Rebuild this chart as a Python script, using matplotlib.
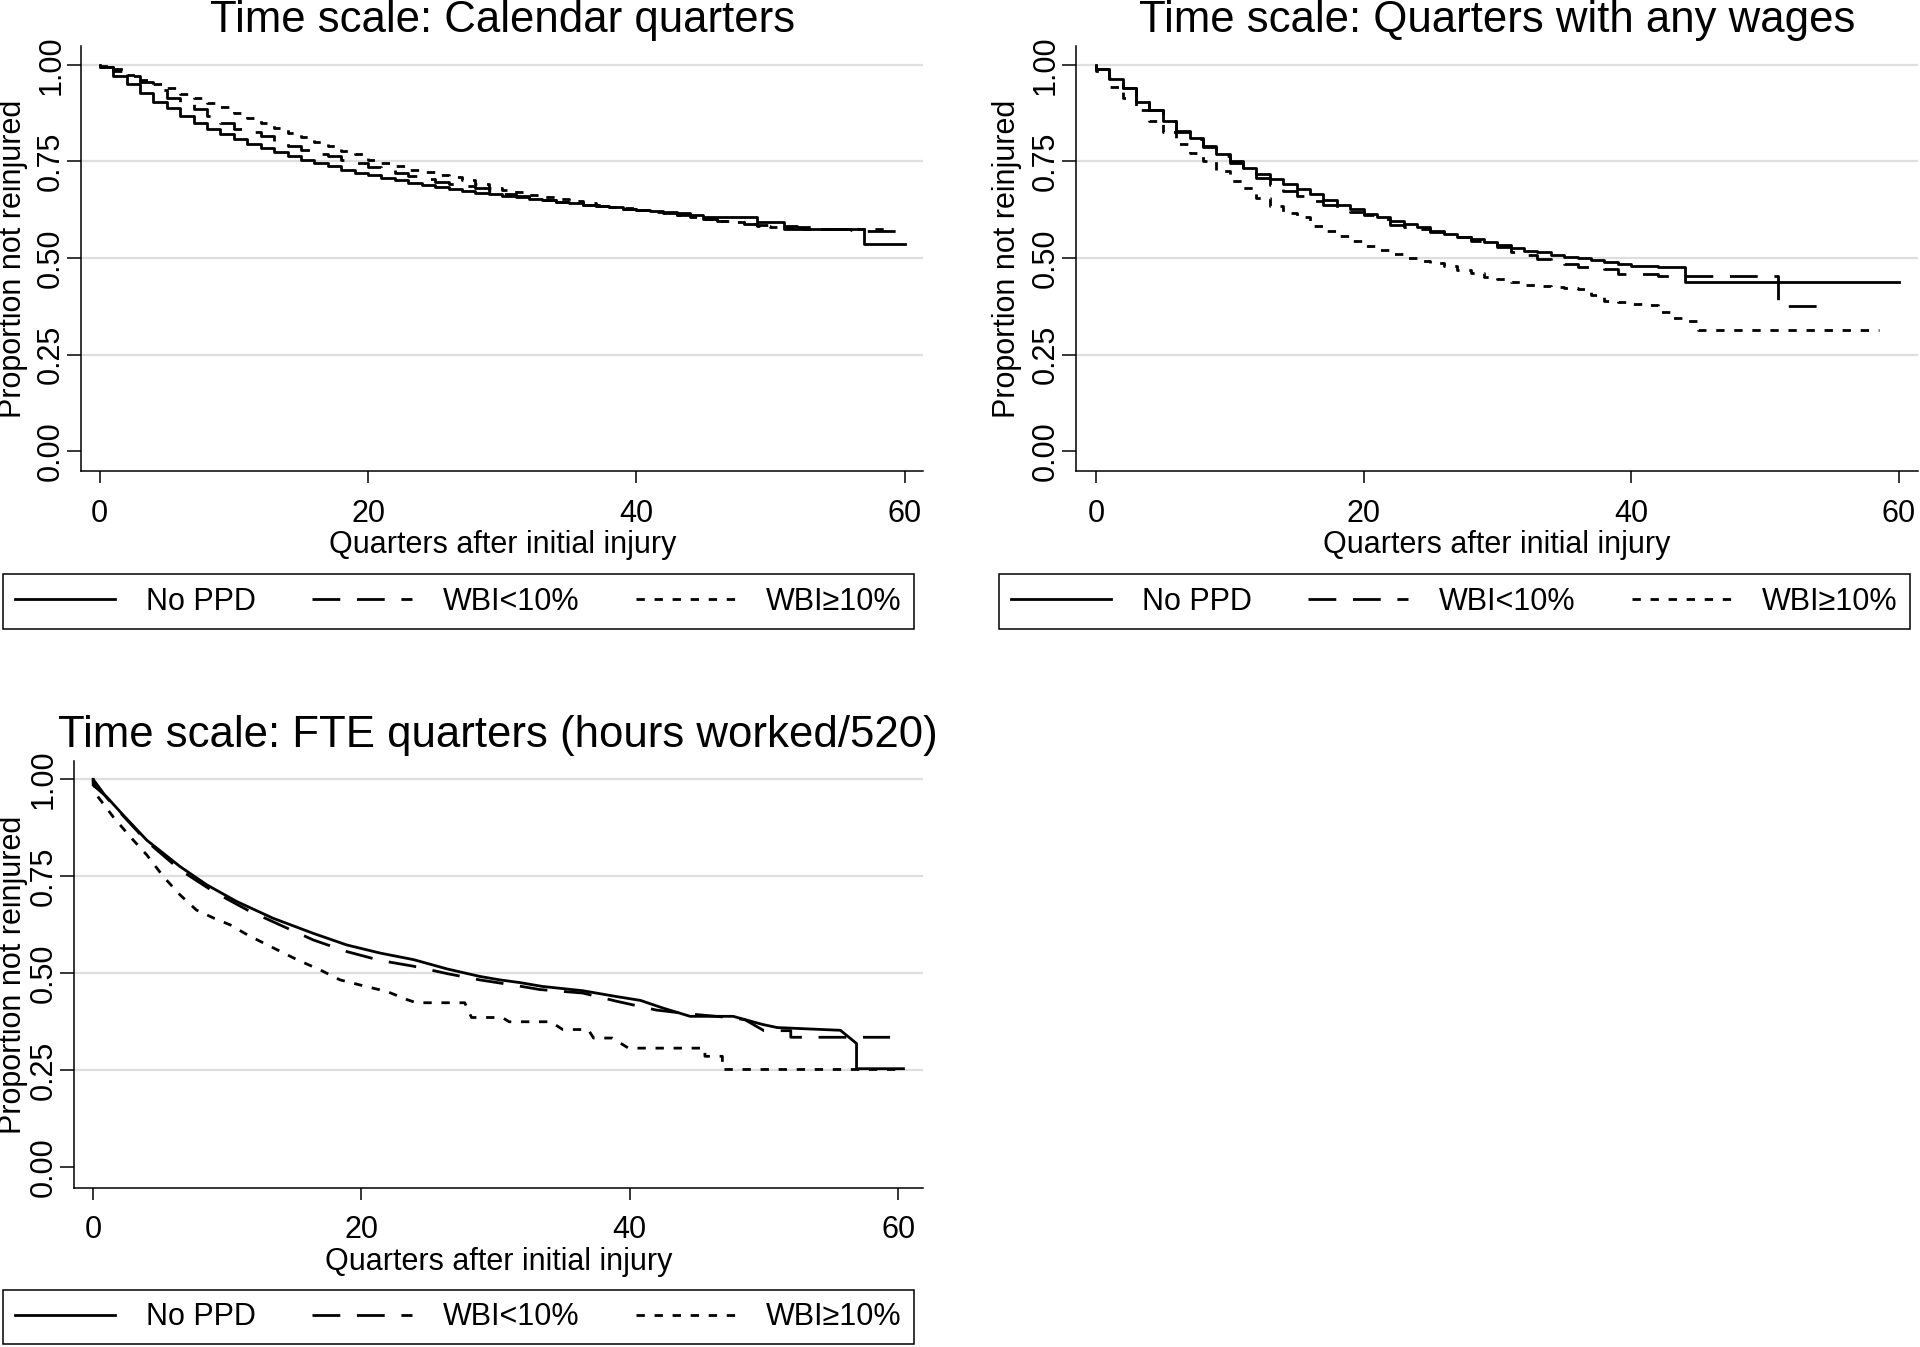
import numpy as np
import matplotlib
matplotlib.use("Agg")
import matplotlib.pyplot as plt

plt.rcParams['font.family'] = ['Liberation Sans', 'DejaVu Sans']

# Textos
groups = ['No PPD', 'WBI<10%', 'WBI≥10%']
titles = ['Time scale: Calendar quarters',
          'Time scale: Quarters with any wages',
          'Time scale: FTE quarters (hours worked/520)']
x_label = 'Quarters after initial injury'
y_label = 'Proportion not reinjured'
x_ticks = [0, 20, 40, 60]
y_ticks = [0.0, 0.25, 0.5, 0.75, 1.0]
y_tick_labels = ['0.00', '0.25', '0.50', '0.75', '1.00']
grid_levels = [0.25, 0.5, 0.75, 1.0]

# Panel 1: calendar quarters, survival held from quarter k to k+1
cal_nopd = [0.994, 0.972, 0.950, 0.927, 0.905, 0.888, 0.867, 0.850, 0.835, 0.820,
            0.807, 0.796, 0.785, 0.775, 0.764, 0.755, 0.747, 0.738, 0.729, 0.721,
            0.715, 0.708, 0.701, 0.695, 0.689, 0.684, 0.679, 0.673, 0.669, 0.665,
            0.661, 0.657, 0.653, 0.649, 0.645, 0.642, 0.638, 0.635, 0.631, 0.628,
            0.625, 0.622, 0.619, 0.616, 0.612, 0.605, 0.605, 0.605, 0.605, 0.594,
            0.594, 0.575, 0.575, 0.575, 0.575, 0.575, 0.575, 0.536, 0.536, 0.536]
cal_nopd_end = 60
cal_lt10 = [0.995, 0.983, 0.970, 0.955, 0.935, 0.914, 0.900, 0.885, 0.868, 0.850,
            0.835, 0.825, 0.815, 0.800, 0.790, 0.780, 0.770, 0.763, 0.754, 0.745,
            0.736, 0.728, 0.720, 0.712, 0.705, 0.698, 0.692, 0.686, 0.680, 0.673,
            0.666, 0.660, 0.655, 0.650, 0.646, 0.642, 0.638, 0.634, 0.630, 0.627,
            0.624, 0.620, 0.616, 0.612, 0.607, 0.600, 0.596, 0.592, 0.588, 0.586,
            0.584, 0.582, 0.580, 0.578, 0.576, 0.574, 0.572, 0.571, 0.571, 0.571]
cal_lt10_end = 60
cal_ge10 = [0.997, 0.990, 0.975, 0.960, 0.950, 0.940, 0.924, 0.914, 0.901, 0.890,
            0.875, 0.863, 0.850, 0.837, 0.824, 0.813, 0.801, 0.790, 0.777, 0.768,
            0.755, 0.747, 0.738, 0.729, 0.723, 0.716, 0.710, 0.701, 0.692, 0.682,
            0.676, 0.670, 0.664, 0.658, 0.652, 0.647, 0.642, 0.637, 0.633, 0.629,
            0.625, 0.620, 0.616, 0.612, 0.606, 0.600, 0.595, 0.592, 0.588, 0.584,
            0.581, 0.578, 0.575, 0.575, 0.575, 0.575, 0.575, 0.575, 0.575]
cal_ge10_end = 59

# Panel 2: quarters with any wages
wage_nopd = [0.990, 0.964, 0.940, 0.905, 0.884, 0.854, 0.828, 0.811, 0.790, 0.768,
             0.751, 0.734, 0.718, 0.704, 0.691, 0.678, 0.665, 0.649, 0.637, 0.626,
             0.615, 0.605, 0.596, 0.588, 0.579, 0.570, 0.562, 0.555, 0.548, 0.542,
             0.533, 0.526, 0.519, 0.515, 0.508, 0.503, 0.499, 0.496, 0.490, 0.485,
             0.480, 0.480, 0.476, 0.476, 0.437, 0.437, 0.437, 0.437, 0.437, 0.437,
             0.437, 0.437, 0.437, 0.437, 0.437, 0.437, 0.437, 0.437, 0.437, 0.437]
wage_nopd_end = 60
wage_lt10 = [0.990, 0.965, 0.940, 0.905, 0.884, 0.854, 0.826, 0.808, 0.787, 0.764,
             0.746, 0.728, 0.708, 0.690, 0.673, 0.660, 0.648, 0.636, 0.628, 0.620,
             0.611, 0.600, 0.585, 0.580, 0.576, 0.567, 0.560, 0.555, 0.545, 0.538,
             0.528, 0.515, 0.508, 0.498, 0.489, 0.485, 0.478, 0.473, 0.472, 0.459,
             0.459, 0.458, 0.453, 0.453, 0.453, 0.453, 0.453, 0.453, 0.453, 0.453,
             0.453, 0.377, 0.377, 0.377, 0.377]
wage_lt10_end = 55
wage_ge10 = [0.985, 0.943, 0.915, 0.884, 0.854, 0.825, 0.795, 0.772, 0.752, 0.725,
             0.700, 0.680, 0.655, 0.635, 0.617, 0.605, 0.583, 0.570, 0.557, 0.545,
             0.530, 0.520, 0.511, 0.501, 0.493, 0.486, 0.480, 0.469, 0.460, 0.452,
             0.445, 0.437, 0.429, 0.427, 0.425, 0.422, 0.420, 0.405, 0.390, 0.387,
             0.380, 0.379, 0.360, 0.345, 0.338, 0.313, 0.313, 0.313, 0.313, 0.313,
             0.313, 0.313, 0.313, 0.313, 0.313, 0.313, 0.313, 0.313, 0.313]
wage_ge10_end = 58.5

# Panel 3: FTE quarters (continuous time, read as points along each curve)
fte_nopd_t = [0, 0, 1.0, 2.26, 4.0, 6.48, 8.47, 10.7, 13.4, 16.4, 18.9, 21.4, 23.9,
              26.4, 28.8, 30.3, 31.8, 33.5, 36.5, 39.0, 40.8, 42.5, 44.5, 47.7,
              49.9, 51.0, 55.7, 55.7, 56.9, 56.9, 60.4]
fte_nopd_s = [1.0, 0.985, 0.955, 0.907, 0.843, 0.775, 0.728, 0.685, 0.642, 0.603,
              0.573, 0.552, 0.535, 0.511, 0.492, 0.483, 0.476, 0.466, 0.455, 0.440,
              0.430, 0.410, 0.389, 0.389, 0.368, 0.360, 0.353, 0.353, 0.319, 0.254,
              0.254]
fte_lt10_t = [0, 1.0, 2.26, 4.0, 6.5, 9.0, 11.5, 13.9, 16.4, 18.9, 21.4, 23.9, 26.4,
              28.8, 31.6, 33.3, 36.5, 39.0, 42.0, 44.5, 47.7, 48.6, 50.0, 52.0, 52.0,
              59.4]
fte_lt10_s = [1.0, 0.953, 0.905, 0.840, 0.766, 0.710, 0.663, 0.625, 0.586, 0.556,
              0.533, 0.518, 0.499, 0.483, 0.468, 0.458, 0.449, 0.428, 0.405, 0.395,
              0.385, 0.380, 0.352, 0.352, 0.335, 0.335]
fte_ge10_t = [0, 0.27, 1.5, 2.76, 4.0, 5.24, 6.48, 7.7, 9.0, 10.2, 11.5, 12.7, 15.2,
              16.9, 18.4, 20.1, 21.9, 23.4, 24.1, 27.7, 28.2, 30.5, 31.0, 34.1, 35.0,
              36.9, 37.3, 38.7, 39.9, 45.6, 45.6, 46.9, 46.9, 60.2]
fte_ge10_s = [1.0, 0.959, 0.903, 0.852, 0.805, 0.749, 0.702, 0.663, 0.642, 0.625,
              0.599, 0.578, 0.535, 0.509, 0.483, 0.468, 0.453, 0.432, 0.424, 0.424,
              0.386, 0.386, 0.375, 0.375, 0.355, 0.355, 0.333, 0.333, 0.307, 0.307,
              0.286, 0.286, 0.252, 0.252]

# Estilos de linea (Stata mono)
styles = [dict(color='black', lw=2.0, linestyle='-'),
          dict(color='black', lw=2.0, linestyle=(0, (10, 6))),
          dict(color='black', lw=2.0, linestyle=(0, (3, 3.5)))]


def km_steps(values, end):
    """Step curve starting at 1.0, one value per quarter, closed at end."""
    t = np.concatenate([[0], np.arange(len(values)), [end]])
    s = np.concatenate([[1.0], values, [values[-1]]])
    return t, s


def style_axes(ax, title, xlim, ylim, ylab_x):
    for g in grid_levels:
        ax.axhline(g, color='#dedede', lw=1.6, zorder=0)
    ax.set_xlim(*xlim)
    ax.set_ylim(*ylim)
    ax.set_xticks(x_ticks)
    ax.set_yticks(y_ticks)
    ax.set_yticklabels(y_tick_labels)
    for side in ['top', 'right']:
        ax.spines[side].set_visible(False)
    for side in ['left', 'bottom']:
        ax.spines[side].set_linewidth(1.1)
    ax.tick_params(axis='x', direction='out', length=8.6, width=1.1,
                   labelsize=22, pad=11)
    ax.tick_params(axis='y', direction='out', length=10, width=1.1,
                   labelsize=22, pad=1, labelrotation=90)
    for lab in ax.get_yticklabels():
        lab.set_va('center')
    ax.set_title(title, fontsize=31.5, pad=10)
    ax.set_xlabel(x_label, fontsize=22, labelpad=1)
    ax.set_ylabel(y_label, fontsize=22)
    ax.yaxis.set_label_coords(ylab_x, 0.5)


fig = plt.figure(figsize=(19.2, 13.47), dpi=100)

ax1 = fig.add_axes([0.0424, 0.6500, 0.4385, 0.3161])
ax2 = fig.add_axes([0.5606, 0.6500, 0.4381, 0.3161])
ax3 = fig.add_axes([0.0383, 0.1179, 0.4424, 0.3171])

# Panel 1
panel1 = [(cal_nopd, cal_nopd_end), (cal_lt10, cal_lt10_end), (cal_ge10, cal_ge10_end)]
for (vals, end), st, name in zip(panel1, styles, groups):
    t, s = km_steps(vals, end)
    ax1.plot(t, s, drawstyle='steps-post', label=name, **st)
style_axes(ax1, titles[0], (-1.37, 61.4), (-0.0525, 1.0497), -0.0634)

# Panel 2
panel2 = [(wage_nopd, wage_nopd_end), (wage_lt10, wage_lt10_end), (wage_ge10, wage_ge10_end)]
for (vals, end), st, name in zip(panel2, styles, groups):
    t, s = km_steps(vals, end)
    ax2.plot(t, s, drawstyle='steps-post', label=name, **st)
style_axes(ax2, titles[1], (-1.46, 61.4), (-0.0525, 1.0497), -0.0646)

# Panel 3
panel3 = [(fte_nopd_t, fte_nopd_s), (fte_lt10_t, fte_lt10_s), (fte_ge10_t, fte_ge10_s)]
for (t, s), st, name in zip(panel3, styles, groups):
    ax3.plot(t, s, label=name, **st)
style_axes(ax3, titles[2], (-1.46, 61.85), (-0.054, 1.047), -0.0536)

# Leyendas debajo de cada panel
legend_spots = [(ax1, (0.0016, 0.5736)), (ax2, (0.5203, 0.5736)), (ax3, (0.0016, 0.0423))]
for ax, anchor in legend_spots:
    leg = fig.legend(handles=ax.get_lines(), labels=groups, ncol=3, loc='upper left',
                     bbox_to_anchor=anchor, bbox_transform=fig.transFigure,
                     fontsize=22, handlelength=3.27, handletextpad=1.0,
                     columnspacing=1.85, borderpad=0.4, borderaxespad=0,
                     fancybox=False, framealpha=1, edgecolor='black')
    leg.get_frame().set_linewidth(1.1)

fig.savefig('out.png', dpi=100)
